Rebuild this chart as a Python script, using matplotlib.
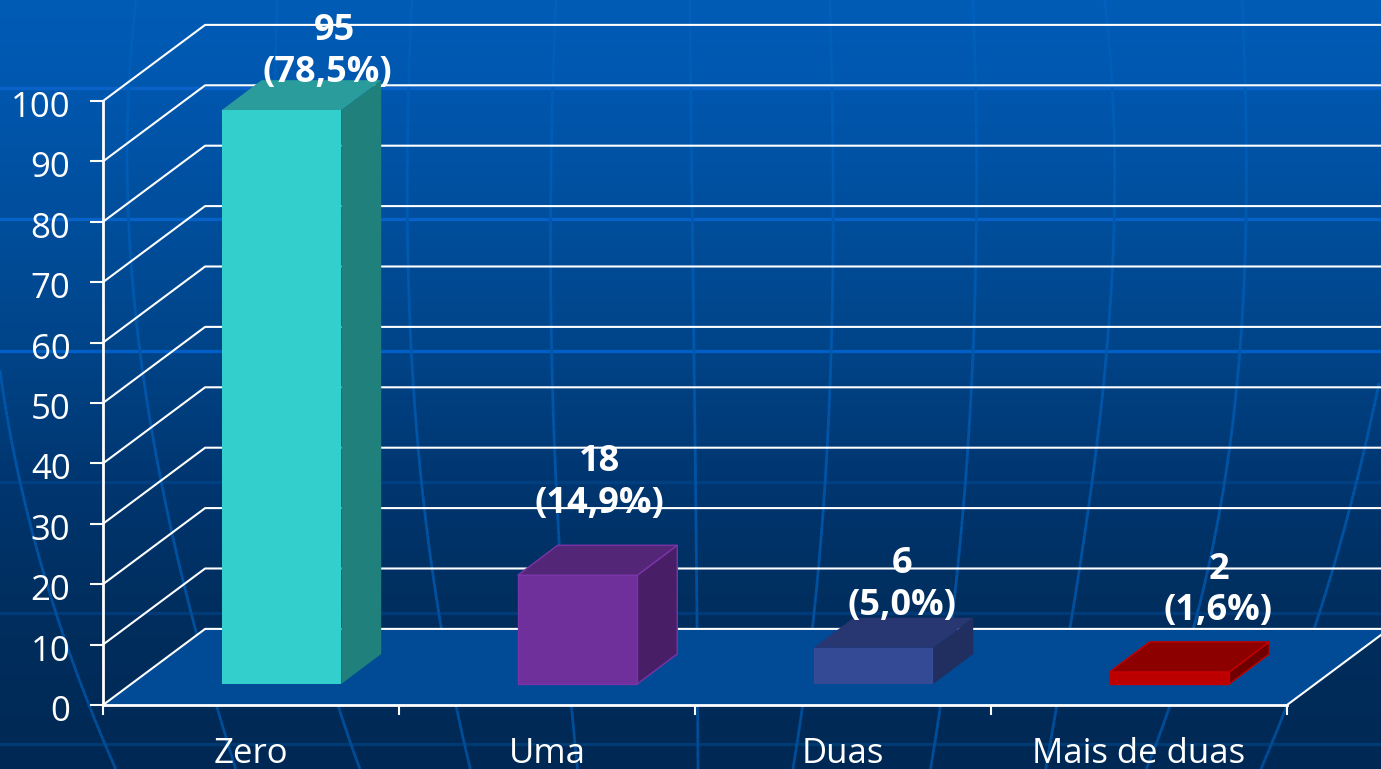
"""Bar chart with a fake 3D look on a blue slide background."""

import matplotlib.pyplot as plt
import numpy as np
from matplotlib.collections import LineCollection
from matplotlib.transforms import ScaledTranslation

plt.rcParams["font.family"] = ["Open Sans", "DejaVu Sans"]

categories = ["Zero", "Uma", "Duas", "Mais de duas"]
values = [95, 18, 6, 2]
percents = ["(78,5%)", "(14,9%)", "(5,0%)", "(1,6%)"]
y_ticks = list(range(0, 101, 10))

front_colors = ["#33cfcc", "#70309c", "#344a94", "#bc0000"]
top_colors = ["#2a9c9c", "#532678", "#283672", "#8c0000"]
side_colors = ["#20807c", "#481f66", "#202f60", "#700000"]
edge_colors = ["none", "#7a34a8", "none", "#c40000"]

# label centres relative to the bar's back top edge, in pixels
value_dx = [13, -18, -11, 9]
value_dy = [54, 88, 58, 76]
pct_dx = [6, -18, -11, 9]
pct_dy = [12, 46, 16, 35]

# background stops: pixel row and colour
bg_rows = [0, 88, 220, 350, 480, 610, 769]
bg_red = [0, 0, 0, 0, 0, 0, 0]
bg_green = [92, 87, 78, 68, 54, 46, 40]
bg_blue = [182, 174, 156, 136, 112, 94, 84]

# background band rows and colours
band_rows = [88, 219, 351, 482, 613, 744]
band_colors = ["#0a62c8", "#0662c8", "#0060c8", "#003f80", "#003a78", "#003a72"]

# background meridians as (x, y) pixel samples
meridians = [
    [(0, 370), (20, 483), (58, 617), (89, 707), (116, 769)],
    [(135, 0), (130, 130), (136, 340), (165, 500), (196, 630), (219, 707), (234, 769)],
    [(277, 0), (274, 200), (280, 400), (310, 600), (341, 710), (359, 769)],
    [(412, 0), (407, 200), (411, 340), (424, 507), (442, 627), (455, 707), (471, 769)],
    [(556, 0), (551, 200), (551, 340), (554, 440), (560, 543), (571, 710), (578, 769)],
    [(690, 0), (692, 200), (695, 430), (697, 630), (698, 769)],
    [(830, 0), (833, 200), (828, 430), (814, 627), (800, 707), (794, 769)],
    [(973, 0), (977, 200), (973, 340), (957, 573), (941, 707), (930, 769)],
    [(1105, 0), (1113, 200), (1109, 340), (1085, 540), (1069, 627), (1055, 707), (1047, 769)],
    [(1242, 0), (1247, 200), (1241, 340), (1223, 473), (1203, 607), (1167, 707), (1147, 769)],
    [(1379, 383), (1350, 507), (1315, 627), (1286, 707), (1261, 769)],
]

fig = plt.figure(figsize=(13.81, 7.69), dpi=100)

# background layer, in pixel coordinates
bg = fig.add_axes([0, 0, 1, 1], zorder=0)
rows = np.arange(769)
gradient = np.stack(
    [np.interp(rows, bg_rows, c) for c in (bg_red, bg_green, bg_blue)], axis=1
)
bg.imshow(gradient[:, None, :] / 255, extent=[0, 1381, 769, 0], aspect="auto")
for row, color in zip(band_rows, band_colors):
    bg.plot([0, 1381], [row, row], color=color, lw=2.4)
for samples in meridians:
    xs, ys = zip(*samples)
    fit = np.polyfit(ys, xs, 3)
    yy = np.linspace(min(ys), max(ys), 80)
    pts = np.column_stack([np.polyval(fit, yy), yy])
    segs = np.stack([pts[:-1], pts[1:]], axis=1)
    mid = (yy[:-1] + yy[1:]) / 2
    # the lines stand out more towards the bottom of the slide
    seg_colors = np.column_stack(
        [
            np.zeros_like(mid),
            np.interp(mid, [0, 769], [96, 76]) / 255,
            np.interp(mid, [0, 769], [188, 150]) / 255,
        ]
    )
    bg.add_collection(LineCollection(segs, colors=seg_colors, linewidths=2.0))
bg.set_xlim(0, 1381)
bg.set_ylim(769, 0)
bg.axis("off")

# chart axes are the front plane of the box
ax = fig.add_axes([103 / 1381, 64 / 769, 1184 / 1381, 604 / 769], zorder=1)
ax.patch.set_alpha(0)
ax.set_xlim(0, 4)
ax.set_ylim(0, 100)

depth_x = 0.345
depth_y = 12.6
bar_shift = 0.103
bar_width = 0.404
bar_lift = 3.48
bar_dx = 0.135
bar_dy = 4.97

ax.fill(
    [0, depth_x, 4 + depth_x, 4],
    [0, depth_y, depth_y, 0],
    color="#004a96",
    lw=0,
    zorder=1,
    clip_on=False,
)
ax.plot([4, 4 + depth_x], [0, depth_y], color="white", lw=1.5, zorder=2, clip_on=False)
for tick in y_ticks:
    ax.plot(
        [0, depth_x, 4 + depth_x],
        [tick, tick + depth_y, tick + depth_y],
        color="white",
        lw=1.5,
        zorder=2,
        clip_on=False,
    )

for i, value in enumerate(values):
    left = i + 0.5 + bar_shift - bar_width / 2
    right = left + bar_width
    base = bar_lift
    top = bar_lift + value
    style = dict(lw=1.0, zorder=4, clip_on=False, edgecolor=edge_colors[i])
    ax.fill(
        [right, right + bar_dx, right + bar_dx, right],
        [base, base + bar_dy, top + bar_dy, top],
        facecolor=side_colors[i],
        **style,
    )
    ax.fill(
        [left, left + bar_dx, right + bar_dx, right],
        [top, top + bar_dy, top + bar_dy, top],
        facecolor=top_colors[i],
        **style,
    )
    ax.fill(
        [left, right, right, left],
        [base, base, top, top],
        facecolor=front_colors[i],
        **style,
    )
    anchor = (left + bar_width / 2 + bar_dx, top + bar_dy)
    for text, dx, dy in (
        (str(value), value_dx[i], value_dy[i]),
        (percents[i], pct_dx[i], pct_dy[i]),
    ):
        ax.annotate(
            text,
            xy=anchor,
            xytext=(dx * 0.72, dy * 0.72),
            textcoords="offset points",
            ha="center",
            va="center_baseline",
            color="white",
            fontsize=26,
            fontweight="bold",
            zorder=6,
            annotation_clip=False,
        )

for side in ("top", "right"):
    ax.spines[side].set_visible(False)
for side in ("left", "bottom"):
    ax.spines[side].set_color("white")
    ax.spines[side].set_linewidth(2.0)
    ax.spines[side].set_zorder(5)

ax.set_yticks(y_ticks)
ax.set_xticks(range(5))
ax.set_xticklabels([])
ax.set_xticks(np.arange(4) + 0.5, labels=categories, minor=True)
ax.tick_params(axis="y", colors="white", length=9.4, width=1.5, pad=14, labelsize=25)
ax.tick_params(axis="x", which="major", colors="white", length=7.5, width=1.5)
ax.tick_params(axis="x", which="minor", colors="white", length=0, pad=23, labelsize=25)

# nudge the value labels down to sit on their ticks
nudge = ScaledTranslation(0, -3 / 100, fig.dpi_scale_trans)
for label in ax.get_yticklabels():
    label.set_transform(label.get_transform() + nudge)

fig.savefig("out.png", dpi=100)
